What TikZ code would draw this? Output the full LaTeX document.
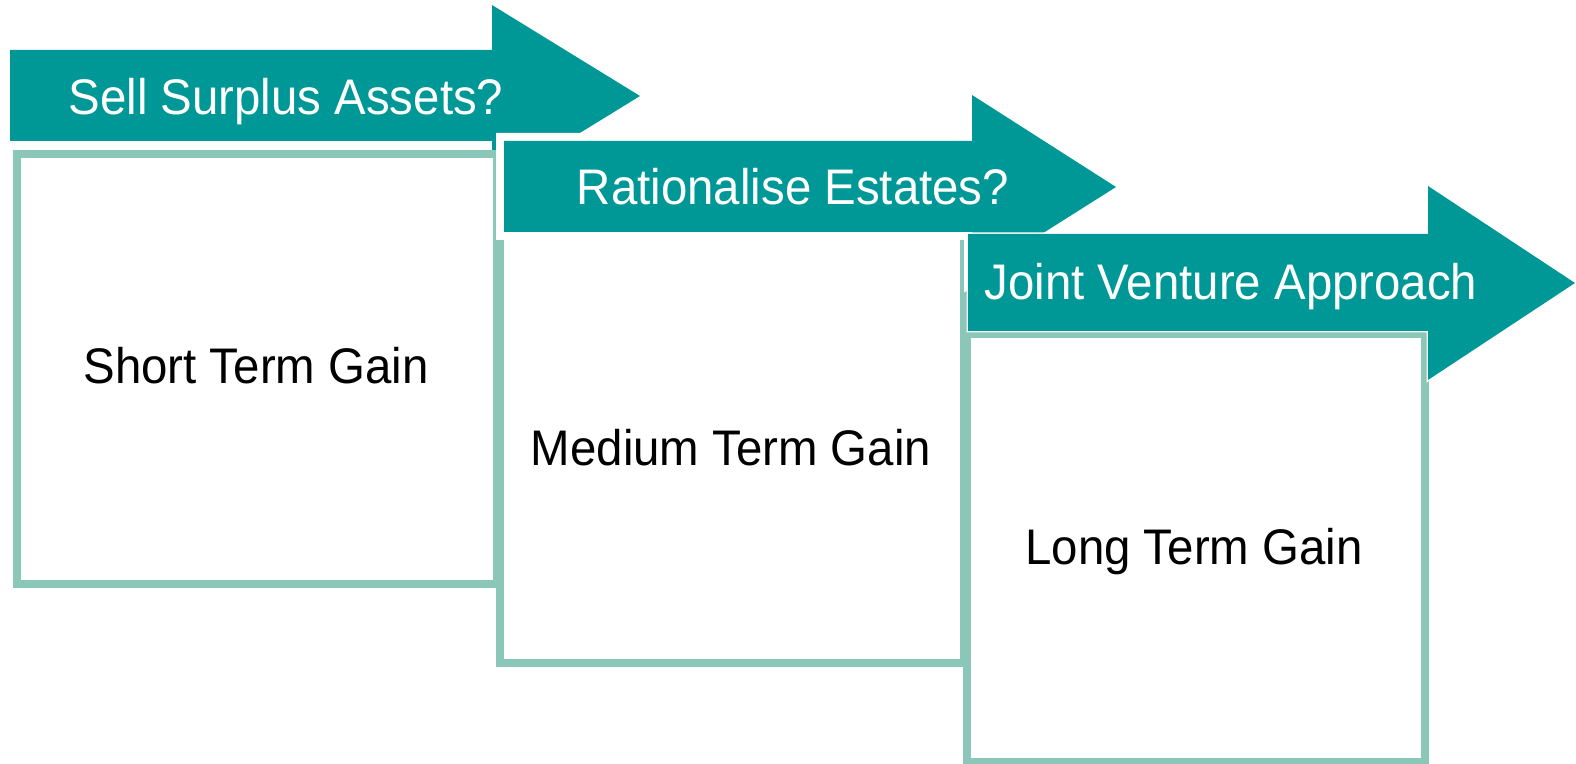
\documentclass[tikz,border=0pt]{standalone}
\usepackage{fontspec}
\setmainfont[FakeStretch=0.948]{Liberation Sans}
\definecolor{arrowteal}{RGB}{0,152,150}
\definecolor{boxgreen}{RGB}{138,199,184}
\begin{document}
\begin{tikzpicture}[x=0.5pt,y=-0.5pt,
  boxframe/.style={draw=boxgreen,line width=4pt,fill=white,line join=miter},
  arrowfill/.style={fill=arrowteal},
  arrowedge/.style={draw=white,line join=miter},
  armtext/.style={text=white,anchor=base,inner sep=0pt,font=\fontsize{25}{30}\selectfont},
  gaintext/.style={text=black,anchor=base,inner sep=0pt,font=\fontsize{25}{30}\selectfont}]
\useasboundingbox (0,0) rectangle (1576,764);
% arrow 1
\draw[arrowedge,line width=1.5pt] (10,50) -- (492,50) -- (492,5) -- (640,96) -- (492,187) -- (492,141) -- (10,141) -- cycle;
\fill[arrowfill] (10,50) -- (492,50) -- (492,5) -- (640,96) -- (492,187) -- (492,141) -- (10,141) -- cycle;
\node[armtext] (t1) at (286,114.3) {Sell Surplus Assets?};
% box 1
\draw[boxframe] (17,154) rectangle (497,584);
\node[gaintext] (g1) at (256,383.3) {Short Term Gain};
% box 2
\draw[boxframe] (500,232) rectangle (964,663);
\node[gaintext] (g2) at (731,466) {Medium Term Gain};
% arrow 2
\draw[arrowedge,line width=8pt] (504,141) -- (972,141) -- (972,95) -- (1116,187) -- (972,278) -- (972,232) -- (504,232) -- cycle;
\fill[arrowfill] (504,141) -- (972,141) -- (972,95) -- (1116,187) -- (972,278) -- (972,232) -- (504,232) -- cycle;
\node[armtext] (t2) at (793,204.3) {Rationalise Estates?};
% box 3
\draw[boxframe] (967,334) rectangle (1425,762);
\node[gaintext] (g3) at (1194,565) {Long Term Gain};
% arrow 3
\draw[arrowedge,line width=1.5pt] (968,234) -- (1428,234) -- (1428,186) -- (1575,283) -- (1428,380) -- (1428,331) -- (968,331) -- cycle;
\fill[arrowfill] (968,234) -- (1428,234) -- (1428,186) -- (1575,283) -- (1428,380) -- (1428,331) -- (968,331) -- cycle;
\node[armtext] (t3) at (1231,300) {Joint Venture Approach};
\end{tikzpicture}
\end{document}
